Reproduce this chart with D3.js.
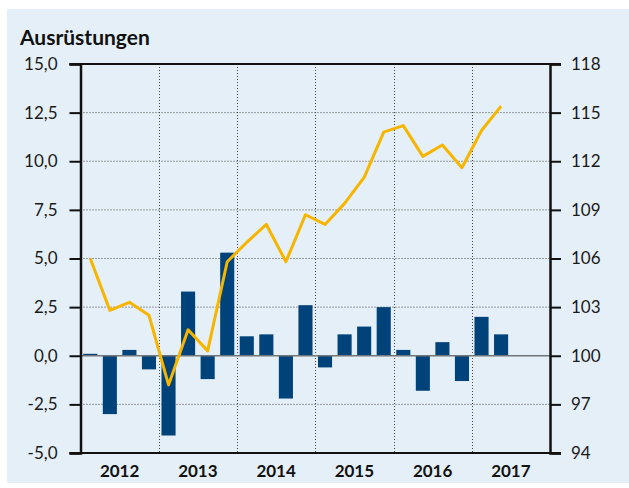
<!DOCTYPE html>
<html>
<head>
<meta charset="utf-8">
<script src="https://cdn.jsdelivr.net/npm/d3@7"></script>
<style>
  body { margin: 0; background: #fff; }
  svg { display: block; font-family: Lato, "Noto Sans", sans-serif; }
</style>
</head>
<body>
<div id="chart-area"></div>
<script>
var quarters = ['2012Q1','2012Q2','2012Q3','2012Q4','2013Q1','2013Q2','2013Q3','2013Q4',
                '2014Q1','2014Q2','2014Q3','2014Q4','2015Q1','2015Q2','2015Q3','2015Q4',
                '2016Q1','2016Q2','2016Q3','2016Q4','2017Q1','2017Q2','2017Q3','2017Q4'];
var years = ['2012', '2013', '2014', '2015', '2016', '2017'];
var changes = [0.1, -3.0, 0.3, -0.7, -4.1, 3.3, -1.2, 5.3, 1.0, 1.1, -2.2, 2.6,
               -0.6, 1.1, 1.5, 2.5, 0.3, -1.8, 0.7, -1.3, 2.0, 1.1];
var index = [106.0, 102.8, 103.3, 102.5, 98.2, 101.6, 100.3, 105.8, 107.0, 108.1, 105.8, 108.7,
             108.1, 109.4, 111.0, 113.8, 114.2, 112.3, 113.0, 111.6, 113.9, 115.4];
var leftTicks = [-5, -2.5, 0, 2.5, 5, 7.5, 10, 12.5, 15];
var rightTicks = [94, 97, 100, 103, 106, 109, 112, 115, 118];
var title = 'Ausrüstungen';

const W = 629, H = 488
const PLOT = { LEFT: 80.5, RIGHT: 550, TOP: 64, BOTTOM: 453 }

const svg = d3.select("#chart-area").append("svg")
      .attr("width", W)
      .attr("height", H)

// background panel
svg.append("rect")
      .attr("x", 7).attr("y", 9)
      .attr("width", W - 7).attr("height", 474)
      .attr("fill", "#e5eff7")

svg.append("text")
      .attr("x", 20).attr("y", 45)
      .attr("font-size", "21px")
      .attr("font-weight", "bold")
      .attr("fill", "#111")
      .text(title)

const x = d3.scaleBand()
      .domain(quarters)
      .range([PLOT.LEFT, PLOT.RIGHT])
      .paddingInner(0.28)
      .paddingOuter(0.14)

const yL = d3.scaleLinear().domain([-5, 15]).range([PLOT.BOTTOM, PLOT.TOP])
const yR = d3.scaleLinear().domain([94, 118]).range([PLOT.BOTTOM, PLOT.TOP])

const de = d3.formatLocale({ decimal: ",", thousands: ".", grouping: [3], currency: ["", " €"], minus: "-" })

// horizontal dotted grid
svg.append("g").selectAll("line")
      .data(leftTicks.filter(d => d != -5 && d != 0 && d != 15))
      .enter().append("line")
      .attr("x1", PLOT.LEFT).attr("x2", PLOT.RIGHT)
      .attr("y1", d => yL(d)).attr("y2", d => yL(d))
      .attr("stroke", "#444").attr("stroke-width", 1)
      .attr("stroke-dasharray", "1,2")

// vertical dotted grid at year boundaries
svg.append("g").selectAll("line")
      .data(years.slice(1))
      .enter().append("line")
      .attr("x1", d => Math.round(x(d + 'Q1') - x.step() * x.paddingInner() / 2) + 0.5)
      .attr("x2", d => Math.round(x(d + 'Q1') - x.step() * x.paddingInner() / 2) + 0.5)
      .attr("y1", PLOT.TOP).attr("y2", PLOT.BOTTOM)
      .attr("stroke", "#444").attr("stroke-width", 1)
      .attr("stroke-dasharray", "1,2")

// bars
svg.append("g").selectAll("rect")
      .data(changes)
      .enter().append("rect")
      .attr("x", (d, i) => x(quarters[i]))
      .attr("width", x.bandwidth())
      .attr("y", d => yL(Math.max(0, d)))
      .attr("height", d => Math.abs(yL(d) - yL(0)))
      .attr("fill", "#00427a")

// zero line
svg.append("line")
      .attr("x1", PLOT.LEFT).attr("x2", PLOT.RIGHT)
      .attr("y1", yL(0)).attr("y2", yL(0))
      .attr("stroke", "#6f777b").attr("stroke-width", 1.5)

// index line
const line = d3.line()
      .x((d, i) => x(quarters[i]) + x.bandwidth() / 2)
      .y(d => yR(d))

svg.append("path")
      .datum(index)
      .attr("d", line)
      .attr("fill", "none")
      .attr("stroke", "#f7b500")
      .attr("stroke-width", 3)
      .attr("stroke-linejoin", "round")

// top and bottom frame lines
svg.append("g").selectAll("line")
      .data([15, -5])
      .enter().append("line")
      .attr("x1", PLOT.LEFT - 11).attr("x2", PLOT.RIGHT + 11)
      .attr("y1", d => yL(d)).attr("y2", d => yL(d))
      .attr("stroke", "#111").attr("stroke-width", 2)

// left axis
const yAxisL = d3.axisLeft(yL)
      .tickValues(leftTicks)
      .tickSize(11)
      .tickPadding(12)
      .tickFormat(de.format(".1f"))
const gl = svg.append("g")
      .attr("transform", `translate(${PLOT.LEFT}, 0)`)
      .call(yAxisL)

// right axis
const yAxisR = d3.axisRight(yR)
      .tickValues(rightTicks)
      .tickSize(11)
      .tickPadding(10)
const gr = svg.append("g")
      .attr("transform", `translate(${PLOT.RIGHT}, 0)`)
      .call(yAxisR)

;[gl, gr].forEach(function(g) {
      g.select(".domain").attr("stroke", "#111").attr("stroke-width", 2.5)
      g.selectAll(".tick line").attr("stroke", "#111").attr("stroke-width", 2)
      g.selectAll(".tick text")
            .attr("font-size", "17px")
            .attr("font-family", "Lato, 'Noto Sans', sans-serif")
            .attr("fill", "#1a1a1a")
})

// year labels
svg.append("g").selectAll("text")
      .data(years)
      .enter().append("text")
      .attr("x", d => (x(d + 'Q2') + x(d + 'Q3') + x.bandwidth()) / 2)
      .attr("y", 477)
      .attr("text-anchor", "middle")
      .attr("font-size", "17px")
      .attr("font-weight", "bold")
      .attr("fill", "#111")
      .text(d => d)
</script>
</body>
</html>
